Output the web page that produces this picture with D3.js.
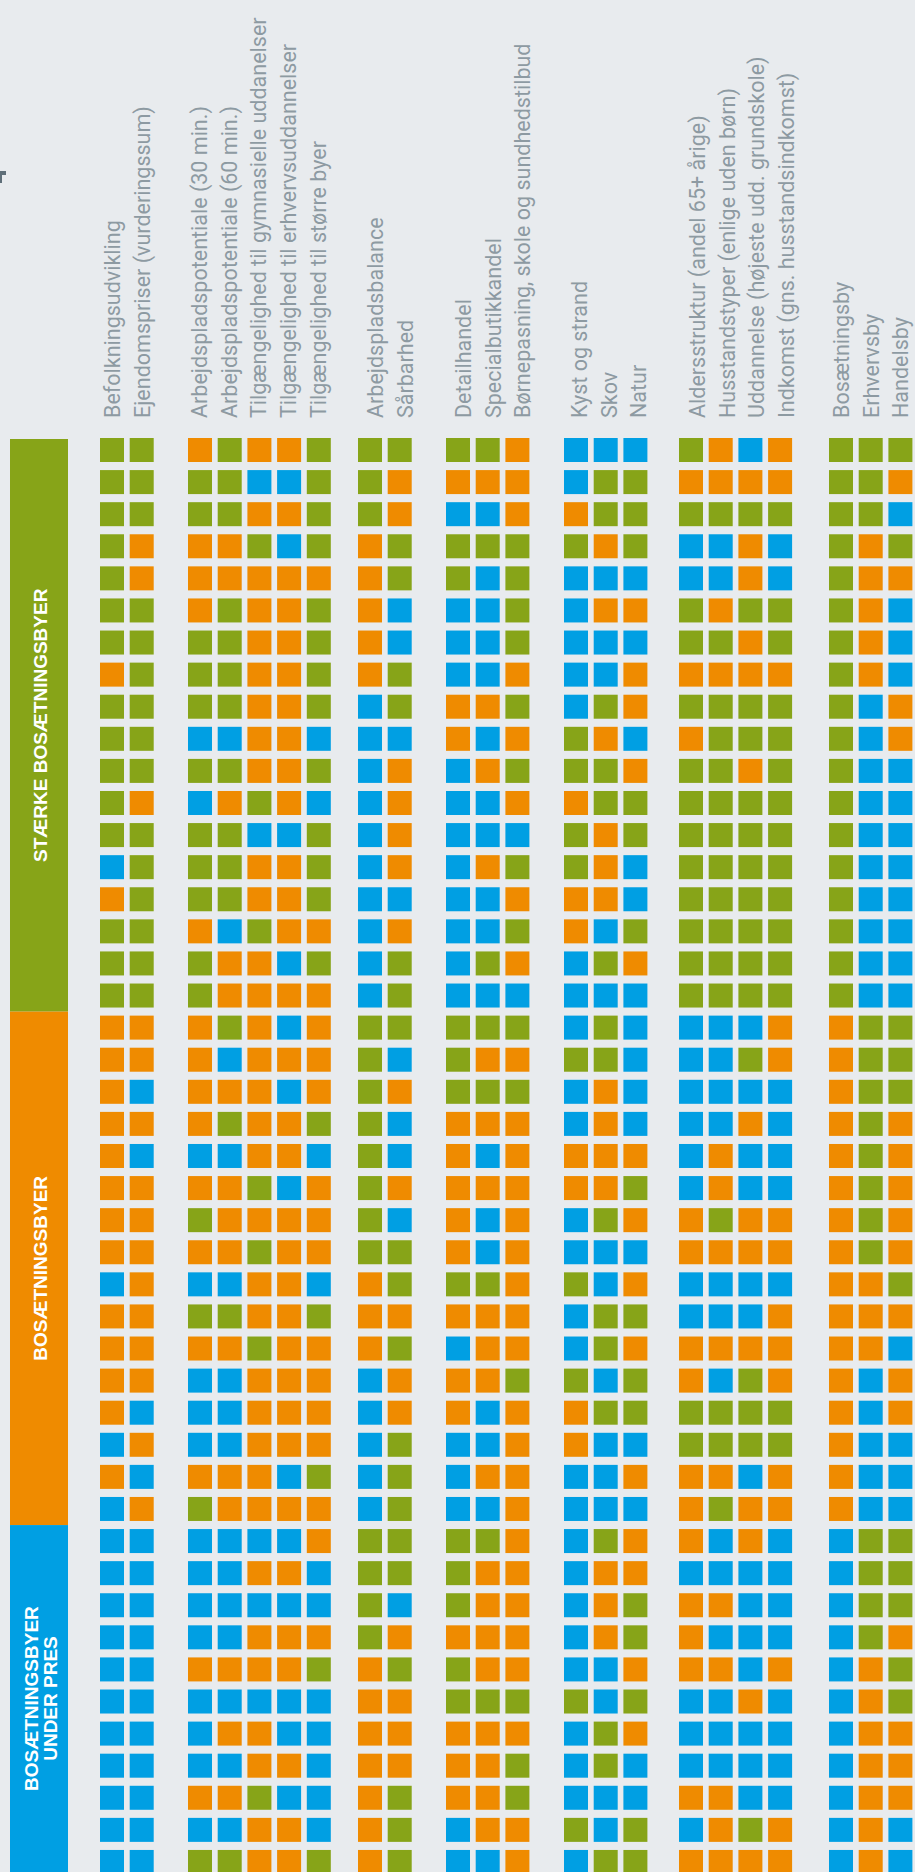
<!DOCTYPE html>
<html>
<head>
<meta charset="utf-8">
<script src="https://cdn.jsdelivr.net/npm/d3@7"></script>
<style>
  body { margin: 0; background: #e8ebee; overflow: hidden; }
</style>
</head>
<body>
<script>
// indicator columns, in their groups
const indicators = [
  ["Befolkningsudvikling", "Ejendomspriser (vurderingssum)"],
  ["Arbejdspladspotentiale (30 min.)", "Arbejdspladspotentiale (60 min.)",
   "Tilgængelighed til gymnasielle uddanelser", "Tilgængelighed til erhvervsuddannelser",
   "Tilgængelighed til større byer"],
  ["Arbejdspladsbalance", "Sårbarhed"],
  ["Detailhandel", "Specialbutikkandel", "Børnepasning, skole og sundhedstilbud"],
  ["Kyst og strand", "Skov", "Natur"],
  ["Aldersstruktur (andel 65+ årige)", "Husstandstyper (enlige uden børn)",
   "Uddannelse (højeste udd. grundskole)", "Indkomst (gns. husstandsindkomst)"],
  ["Bosætningsby", "Erhvervsby", "Handelsby"]
];

// town groups (rows); G = green, O = orange, B = blue
const townGroups = [
  {label: ["STÆRKE BOSÆTNINGSBYER"], color: "G"},
  {label: ["BOSÆTNINGSBYER"], color: "O"},
  {label: ["BOSÆTNINGSBYER", "UNDER PRES"], color: "B"}
];

const staerke = [
  "GG|OGOOG|GG|GGO|BBB|GOBO|GGG",
  "GG|GGBBG|GO|OOO|BGG|OOOO|GGO",
  "GG|GGOOG|GO|BBO|OGG|GGGG|GGB",
  "GO|OOGBG|OG|GGG|GOG|BBOB|GOG",
  "GO|OOOOO|OG|GBG|BBB|BBOB|GOO",
  "GG|OGOOG|OB|BBG|BOO|GOGG|GOB",
  "GG|GGOOG|OB|BBG|BBB|GGOG|GOB",
  "OG|GGOOG|OG|BBO|BBO|OOOO|GOB",
  "GG|GGOOG|BG|OOG|BGO|GGGG|GBO",
  "GG|BBOOB|BB|OBO|GOB|OGGG|GBO",
  "GG|GGOOG|BO|BOG|GGO|GGOG|GBB",
  "GO|BOGOB|BO|BBO|OGG|GGGG|GBB",
  "GG|GGBBG|BO|BBB|GOG|GGGG|GBB",
  "BG|GGOOG|BO|BOG|GOB|GGGG|GBB",
  "OG|GGOOG|BB|BBO|OOB|GGGG|GBB",
  "GG|OBGOO|BO|BBG|OBG|GGGG|GBB",
  "GG|GOOBG|BG|BGO|BGO|GGGG|GBB",
  "GG|GOOOO|BG|BBB|BBB|GGGG|GBB"
];

const bosaetning = [
  "OO|OGOBO|GG|GGG|BGB|BBBO|OGG",
  "OO|OBOOO|GB|GOO|GGB|BBGO|OGG",
  "OB|OOOBO|GO|GGG|BOB|BBBB|OGG",
  "OO|OGOOG|GB|OOO|BOB|BBOB|OGO",
  "OB|BBOOB|GB|OBO|OOO|BOBB|OGO",
  "OO|OOGBO|GO|OOO|OOG|BOBB|OGO",
  "OO|GOOOO|GB|OBO|BGO|OGOO|OGO",
  "OO|OOGOO|GG|OBO|BBB|OOOO|OGO",
  "BO|BBOOB|OG|GGO|GBO|BBBB|OOG",
  "OO|GGOOG|OO|OOO|BGG|BBBO|OOO",
  "OO|OOGOO|OG|BOO|BGO|OOOO|OOB",
  "OO|BBOOO|BO|OOG|GBG|OBGO|OBO",
  "OB|BBOOO|BO|OBO|OGG|GGGG|OBO",
  "BO|BBOOO|BG|BBO|OBB|GGGG|OBB",
  "OB|OOOBG|BG|BOO|BBO|OOBO|OBB",
  "BO|GOOOO|BG|BBO|BBB|OGOO|OBB"
];

const underPres = [
  "BB|BBBBO|GG|GGO|BGO|OBOB|BGG",
  "BB|BBOOB|GG|GOO|BOO|BBBB|BGG",
  "BB|BBBBB|GB|GOO|BOG|OOBB|BGG",
  "BB|BBOOO|GO|OOO|BOG|OBBB|BGO",
  "BB|OOOOG|OG|GOO|BBO|OOBO|BOG",
  "BB|BBBBB|OO|GGG|GBG|BBOB|BOG",
  "BB|BOOBB|OO|OOO|BGO|BBBB|BOO",
  "BB|BBOOB|OO|OOG|BGB|BBBB|BOO",
  "BB|OOGBB|OG|OOG|BBB|OOBB|BOO",
  "BB|BBOOB|OG|BOO|GBG|BOGO|BOB",
  "BB|GGOOG|OG|BBO|BGG|OOOO|BOB"
];

const rowsByGroup = [staerke, bosaetning, underPres];

// layout
const width = 915, height = 1872;
const cell = 24;
const colStep = 29.7;
const rowStep = 32.09;
const firstRowY = 438;
const groupLeft = [100, 188, 358, 446, 564, 679, 829];
const labelShift = [6, 5, 11, 11, 9, 12, 6];
const labelBottom = 418;
const bandX = 10, bandW = 58;

const color = d3.scaleOrdinal()
  .domain(["G", "O", "B"])
  .range(["#87a418", "#ef8b00", "#009fe3"]);

// flatten columns
const columns = [];
indicators.forEach((g, gi) => g.forEach((name, i) => columns.push({name, group: gi, index: i})));

// flatten rows
const rows = [];
rowsByGroup.forEach((list, gi) => list.forEach(s => rows.push({group: gi, codes: s.replace(/\|/g, "").split("")})));

const x = c => groupLeft[c.group] + c.index * colStep;
const y = d3.scaleLinear().domain([0, 1]).range([firstRowY, firstRowY + rowStep]);

const svg = d3.select("body").append("svg")
  .attr("width", width)
  .attr("height", height)
  .style("display", "block");

svg.append("rect")
  .attr("width", width)
  .attr("height", height)
  .attr("fill", "#e8ebee");

// stray clipped glyph at the left edge
svg.append("path")
  .attr("d", "M0,171H6V175H2V183H0Z")
  .attr("fill", "#5f6f79");

// column labels
svg.append("g")
  .attr("font-family", "Roboto, 'Open Sans', sans-serif")
  .attr("font-size", 21.5)
  .attr("fill", "#8d9aa2")
  .selectAll("text")
  .data(columns)
  .join("text")
    .attr("transform", c => `translate(${x(c) + cell / 2 + labelShift[c.group] + 2},${labelBottom}) rotate(-90)`)
    .text(c => c.name);

// group bands on the left
let start = 0;
const bands = townGroups.map((g, gi) => {
  const n = rowsByGroup[gi].length;
  const b = {...g, first: start, last: start + n - 1};
  start += n;
  return b;
});

const bandTop = (b, i) => i === 0 ? y(b.first) + 1 : y(b.first) - 4;
const bandBottom = (b, i) => i === bands.length - 1 ? height : y(b.last + 1) - 4;

const band = svg.append("g")
  .selectAll("g")
  .data(bands)
  .join("g");

band.append("rect")
  .attr("x", bandX)
  .attr("y", bandTop)
  .attr("width", bandW)
  .attr("height", (b, i) => bandBottom(b, i) - bandTop(b, i))
  .attr("fill", b => color(b.color));

band.each(function(b, i) {
  const cy = (bandTop(b, i) + bandBottom(b, i)) / 2;
  const n = b.label.length;
  const lineH = 19;
  b.label.forEach((line, li) => {
    const bx = bandX + bandW / 2 + 8 + (li - (n - 1) / 2) * lineH;
    d3.select(this).append("text")
      .attr("transform", `translate(${bx},${cy}) rotate(-90)`)
      .attr("text-anchor", "middle")
      .attr("font-family", "'Liberation Sans', Arial, sans-serif")
      .attr("font-weight", "bold")
      .attr("font-size", 19)
      .attr("fill", "#fff")
      .text(line);
  });
});

// cells
svg.append("g")
  .selectAll("g")
  .data(rows)
  .join("g")
    .attr("transform", (r, i) => `translate(0,${y(i)})`)
  .selectAll("rect")
  .data(r => r.codes.map((code, ci) => ({code, col: columns[ci]})))
  .join("rect")
    .attr("x", d => x(d.col))
    .attr("width", cell)
    .attr("height", cell)
    .attr("fill", d => color(d.code));
</script>
</body>
</html>
